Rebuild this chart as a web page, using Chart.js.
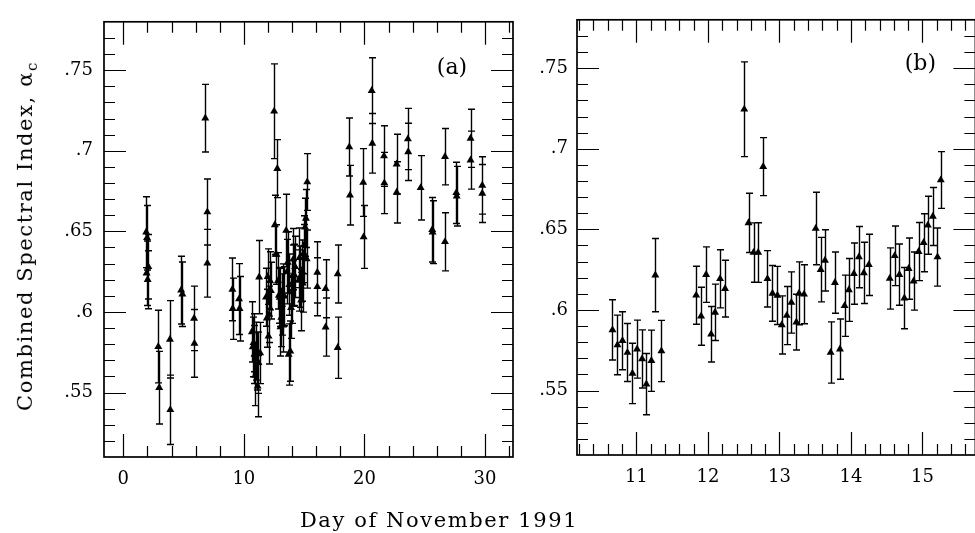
<!DOCTYPE html>
<html>
<head>
<meta charset="utf-8">
<title>Combined spectral index, November 1991</title>
<script src="https://cdn.jsdelivr.net/npm/chart.js@4/dist/chart.umd.min.js"></script>
<style>
    html, body { margin: 0; padding: 0; background: #fff; overflow: hidden; }
    body { width: 975px; height: 533px; position: relative; }
    canvas { position: absolute; top: 0; }
    #chart-a { left: 0; }
    #chart-b { left: 470px; }
    .axis-title {
        position: absolute;
        white-space: nowrap;
        font-family: 'DejaVu Serif', serif;
        font-size: 21px;
        letter-spacing: 1.6px;
        color: #000;
    }
    #y-title { left: 27px; top: 236px; transform: translate(-50%, -50%) rotate(-90deg); }
    #x-title { left: 439px; top: 520px; transform: translate(-50%, -50%); }
</style>
</head>
<body>
<canvas id="chart-a" width="520" height="533"></canvas>
<canvas id="chart-b" width="510" height="533"></canvas>
<div class="axis-title" id="y-title">Combined Spectral Index, &alpha;<sub style="font-size:15px">c</sub></div>
<div class="axis-title" id="x-title">Day of November 1991</div>

<script>
// early part of the month (panel a only)
const earlyDays   = [1.90, 1.97, 2.08, 1.93, 2.02, 2.90, 2.98, 3.87, 3.90, 4.80, 4.90, 5.87, 5.90, 6.80, 6.97, 6.97, 9.05, 9.07, 9.60, 9.64];
const earlyValues = [0.6495, 0.646, 0.628, 0.624, 0.620, 0.5785, 0.553, 0.583, 0.5393, 0.6135, 0.611, 0.596, 0.5805, 0.7202, 0.662, 0.6302, 0.614, 0.602, 0.608, 0.602];
const earlyErrors = [0.022, 0.020, 0.020, 0.020, 0.018, 0.0225, 0.0225, 0.024, 0.0215, 0.021, 0.020, 0.020, 0.021, 0.021, 0.0205, 0.021, 0.0195, 0.019, 0.022, 0.020];

// days 10.6 - 15.3 (both panels)
const zoomDays = [
    10.666, 10.736, 10.806, 10.875, 10.945, 11.01, 11.08, 11.14, 11.21, 11.265, 11.35,
    11.836, 11.905, 11.975, 12.045, 12.10, 12.17, 12.24,
    12.508, 12.568, 12.638, 12.703, 12.773, 12.833, 12.903, 12.972, 13.033, 13.103, 13.167, 13.237, 13.274, 13.344,
    13.507, 13.577, 13.637, 13.716, 13.776, 13.846, 13.911, 13.971, 14.041, 14.111, 14.180, 14.250,
    14.542, 14.612, 14.677, 14.747, 14.807, 14.876, 14.946, 15.016, 15.075, 15.145, 15.210, 15.256
];
const zoomValues = [
    0.5876, 0.5783, 0.5809, 0.5736, 0.5606, 0.5757, 0.5696, 0.554, 0.5685, 0.6216, 0.5745,
    0.6091, 0.5961, 0.6219, 0.5849, 0.5985, 0.6193, 0.6132,
    0.7245, 0.654, 0.6356, 0.6356, 0.6889, 0.6193, 0.6103, 0.609, 0.5907, 0.5965, 0.6046, 0.5924, 0.6103, 0.6097,
    0.6505, 0.625, 0.6307, 0.5736, 0.6169, 0.5757, 0.6026, 0.6124, 0.6225, 0.6328, 0.623, 0.628,
    0.6195, 0.6336, 0.6219, 0.6073, 0.6256, 0.6179, 0.6362, 0.6417, 0.6525, 0.658, 0.6328, 0.6806
];
const zoomErrors = [
    0.0187, 0.0185, 0.018, 0.018, 0.0187, 0.018, 0.018, 0.019, 0.019, 0.0227, 0.019,
    0.018, 0.018, 0.0172, 0.0172, 0.0175, 0.018, 0.0176,
    0.0294, 0.0184, 0.0184, 0.0185, 0.018, 0.0175, 0.0173, 0.018, 0.018, 0.018, 0.019, 0.0173, 0.0195, 0.0183,
    0.0225, 0.020, 0.019, 0.019, 0.019, 0.0187, 0.019, 0.0195, 0.019, 0.019, 0.019, 0.019,
    0.019, 0.0185, 0.019, 0.019, 0.019, 0.018, 0.018, 0.018, 0.018, 0.018, 0.018, 0.0176
];

// rest of the month (panel a only)
const lateDays   = [16.09, 16.09, 16.78, 16.78, 17.78, 17.78, 18.74, 18.80, 19.90, 19.93, 20.60, 20.65, 21.62, 21.65, 22.67, 22.67, 23.60, 23.63, 24.66, 25.62, 25.65, 26.68, 26.68, 27.62, 27.65, 28.80, 28.80, 29.77, 29.77];
const lateValues = [0.6245, 0.6156, 0.6144, 0.5906, 0.6235, 0.5778, 0.7023, 0.6724, 0.6803, 0.6465, 0.7373, 0.7046, 0.6967, 0.680, 0.6917, 0.6742, 0.7073, 0.6993, 0.677, 0.651, 0.6495, 0.6963, 0.6435, 0.6739, 0.6718, 0.7077, 0.6942, 0.6785, 0.6735];
const lateErrors = [0.019, 0.018, 0.018, 0.018, 0.018, 0.019, 0.018, 0.0185, 0.021, 0.0195, 0.0204, 0.0185, 0.0188, 0.019, 0.0185, 0.019, 0.019, 0.0178, 0.020, 0.020, 0.0195, 0.0175, 0.018, 0.019, 0.0185, 0.018, 0.018, 0.0178, 0.018];

const yTickValues = [0.55, 0.6, 0.65, 0.7, 0.75];
const yTickLabels = ['.55', '.6', '.65', '.7', '.75'];
const xTicksA = [0, 10, 20, 30];
const xTicksB = [11, 12, 13, 14, 15];

const FONT = "'DejaVu Serif', serif";

// vertical error bars with small caps, drawn under the markers
function errorBars(days, values, errors) {
    return {
        id: 'errorBars',
        beforeDatasetsDraw(chart) {
            const { ctx, scales: { x, y } } = chart;
            ctx.save();
            ctx.strokeStyle = '#000';
            ctx.lineWidth = 1.4;
            ctx.beginPath();
            days.forEach((d, i) => {
                const px = Math.round(x.getPixelForValue(d)) + 0.5;
                const top = y.getPixelForValue(values[i] + errors[i]);
                const bot = y.getPixelForValue(values[i] - errors[i]);
                ctx.moveTo(px, top); ctx.lineTo(px, bot);
                ctx.moveTo(px - 3.5, top); ctx.lineTo(px + 3.5, top);
                ctx.moveTo(px - 3.5, bot); ctx.lineTo(px + 3.5, bot);
            });
            ctx.stroke();
            ctx.restore();
        }
    };
}

// box around the plot with ticks pointing inwards on all four sides
function frameTicks(xMinor, xStep, xMajor, label, labelDx, labelDy) {
    return {
        id: 'frameTicks',
        afterDraw(chart) {
            const { ctx, chartArea: a, scales: { x, y } } = chart;
            ctx.save();
            ctx.strokeStyle = '#000';
            ctx.lineWidth = 1.2;
            ctx.beginPath();
            for (let v = xMinor[0]; v <= xMinor[1] + 1e-9; v += xStep) {
                const vv = Math.round(v * 100) / 100;
                const px = Math.round(x.getPixelForValue(vv)) + 0.5;
                if (px <= a.left + 1 || px >= a.right - 1) continue;
                const len = xMajor.includes(vv) ? 23 : 11;
                ctx.moveTo(px, a.bottom); ctx.lineTo(px, a.bottom - len);
                ctx.moveTo(px, a.top); ctx.lineTo(px, a.top + len);
            }
            for (let k = 52; k <= 77; k++) {
                const v = k / 100;
                const py = Math.round(y.getPixelForValue(v)) + 0.5;
                const len = k % 5 === 0 ? 22 : 11;
                ctx.moveTo(a.left, py); ctx.lineTo(a.left + len, py);
                ctx.moveTo(a.right, py); ctx.lineTo(a.right - len, py);
            }
            ctx.stroke();
            ctx.lineWidth = 1.7;
            ctx.strokeRect(a.left, a.top, a.width, a.height);
            ctx.fillStyle = '#000';
            ctx.font = "22px " + FONT;
            ctx.textAlign = 'center';
            ctx.textBaseline = 'middle';
            ctx.fillText(label, a.right - labelDx, a.top + labelDy);
            ctx.restore();
        }
    };
}

function makeChart(id, days, values, xMin, xMax, xTicks, yAxisWidth, xAxisHeight, padRight, yPad, plugins) {
    return new Chart(document.getElementById(id), {
        type: 'scatter',
        data: {
            datasets: [{
                data: days.map((d, i) => ({ x: d, y: values[i] })),
                pointStyle: 'triangle',
                pointRadius: 4.6,
                pointHoverRadius: 4.6,
                backgroundColor: '#000',
                borderColor: '#000',
                borderWidth: 0
            }]
        },
        options: {
            responsive: false,
            animation: false,
            events: [],
            layout: { padding: { top: 13, right: padRight, left: 0, bottom: 0 } },
            plugins: { legend: { display: false }, tooltip: { enabled: false } },
            scales: {
                x: {
                    type: 'linear',
                    min: xMin,
                    max: xMax,
                    grid: { display: false, drawTicks: false },
                    border: { display: false },
                    afterBuildTicks: s => { s.ticks = xTicks.map(v => ({ value: v })); },
                    afterFit: s => { s.height = xAxisHeight; },
                    ticks: {
                        padding: 12,
                        maxRotation: 0,
                        color: '#000',
                        font: { family: FONT, size: 18 },
                        callback: v => String(v)
                    }
                },
                y: {
                    type: 'linear',
                    min: 0.51,
                    max: 0.78,
                    grid: { display: false, drawTicks: false },
                    border: { display: false },
                    afterBuildTicks: s => { s.ticks = yTickValues.map(v => ({ value: v })); },
                    afterFit: s => { s.width = yAxisWidth; },
                    ticks: {
                        padding: yPad,
                        color: '#000',
                        font: { family: FONT, size: 18 },
                        callback: (v, i) => yTickLabels[i]
                    }
                }
            }
        },
        plugins: plugins
    });
}

const allDays = earlyDays.concat(zoomDays, lateDays);
const allValues = earlyValues.concat(zoomValues, lateValues);
const allErrors = earlyErrors.concat(zoomErrors, lateErrors);

makeChart('chart-a', allDays, allValues, -1.6, 32.32, xTicksA, 104, 76, 7, 11, [
    errorBars(allDays, allValues, allErrors),
    frameTicks([0, 32], 2, xTicksA, '(a)', 61, 46)
]);

makeChart('chart-b', zoomDays, zoomValues, 10.17, 15.74, xTicksB, 107, 78, 3, 9, [
    errorBars(zoomDays, zoomValues, zoomErrors),
    frameTicks([10.2, 15.6], 0.2, xTicksB, '(b)', 55, 44.5)
]);
</script>
</body>
</html>
